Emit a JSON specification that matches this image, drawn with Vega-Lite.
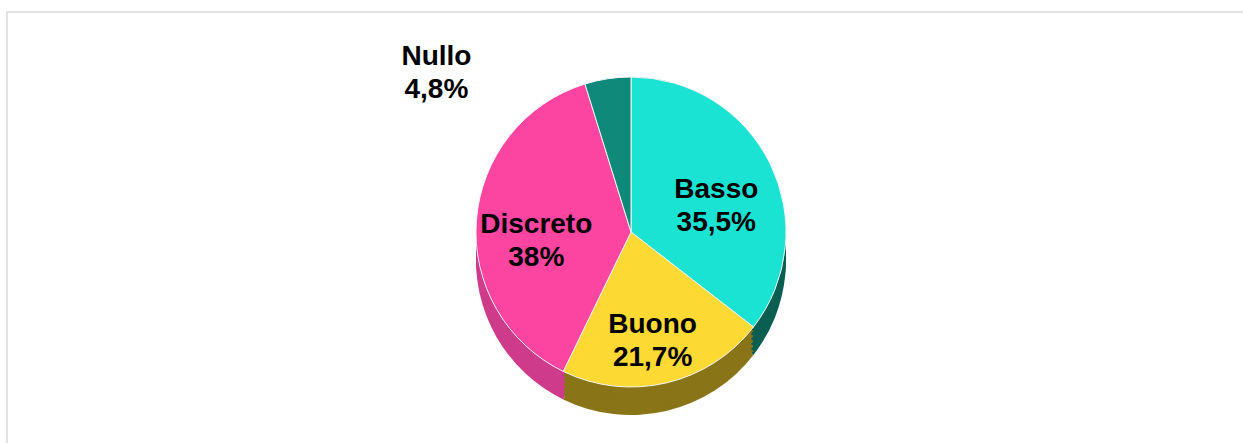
{
  "$schema": "https://vega.github.io/schema/vega-lite/v6.json",
  "width": 1248,
  "height": 440,
  "autosize": {"type": "none"},
  "padding": {"left": 7, "top": 12, "right": 0, "bottom": 0},
  "background": "white",
  "view": {"stroke": "#d9d9d9", "strokeWidth": 1.5},
  "data": {
    "values": [
      {"idx": 1, "cat": "Basso", "value": 35.5, "label": "Basso\n35,5%"},
      {"idx": 2, "cat": "Buono", "value": 21.7, "label": "Buono\n21,7%"},
      {"idx": 3, "cat": "Discreto", "value": 38.0, "label": "Discreto\n38%"},
      {"idx": 4, "cat": "Nullo", "value": 4.8, "label": "Nullo\n4,8%"}
    ]
  },
  "encoding": {
    "theta": {"field": "value", "type": "quantitative", "stack": true},
    "order": {"field": "idx", "type": "quantitative"}
  },
  "layer": [
    {"mark": {"type": "arc", "outerRadius": 155, "yOffset": 28},
     "encoding": {"color": {"field": "cat", "type": "nominal", "legend": null,
       "scale": {"domain": ["Basso", "Buono", "Discreto", "Nullo"], "range": ["#0b5e52", "#8a7418", "#cf3b8b", "#075a4f"]}}}},
    {"mark": {"type": "arc", "outerRadius": 155, "yOffset": 24},
     "encoding": {"color": {"field": "cat", "type": "nominal", "legend": null,
       "scale": {"domain": ["Basso", "Buono", "Discreto", "Nullo"], "range": ["#0b5e52", "#8a7418", "#cf3b8b", "#075a4f"]}}}},
    {"mark": {"type": "arc", "outerRadius": 155, "yOffset": 19},
     "encoding": {"color": {"field": "cat", "type": "nominal", "legend": null,
       "scale": {"domain": ["Basso", "Buono", "Discreto", "Nullo"], "range": ["#0b5e52", "#8a7418", "#cf3b8b", "#075a4f"]}}}},
    {"mark": {"type": "arc", "outerRadius": 155, "yOffset": 14},
     "encoding": {"color": {"field": "cat", "type": "nominal", "legend": null,
       "scale": {"domain": ["Basso", "Buono", "Discreto", "Nullo"], "range": ["#0b5e52", "#8a7418", "#cf3b8b", "#075a4f"]}}}},
    {"mark": {"type": "arc", "outerRadius": 155, "yOffset": 9},
     "encoding": {"color": {"field": "cat", "type": "nominal", "legend": null,
       "scale": {"domain": ["Basso", "Buono", "Discreto", "Nullo"], "range": ["#0b5e52", "#8a7418", "#cf3b8b", "#075a4f"]}}}},
    {"mark": {"type": "arc", "outerRadius": 155, "yOffset": 4},
     "encoding": {"color": {"field": "cat", "type": "nominal", "legend": null,
       "scale": {"domain": ["Basso", "Buono", "Discreto", "Nullo"], "range": ["#0b5e52", "#8a7418", "#cf3b8b", "#075a4f"]}}}},
    {"mark": {"type": "arc", "outerRadius": 155, "stroke": "#f4f4f4", "strokeWidth": 1},
     "encoding": {"fill": {"field": "cat", "type": "nominal", "legend": null,
       "scale": {"domain": ["Basso", "Buono", "Discreto", "Nullo"], "range": ["#1be3d3", "#fcd933", "#fc44a1", "#0f8a7a"]}}}},
    {"mark": {"type": "text", "font": "Liberation Sans", "fontWeight": "bold", "fontSize": 28, "lineHeight": 33, "lineBreak": "\n", "color": "black", "align": "center", "baseline": "middle"},
     "encoding": {
       "radius": {"value": 95},
       "text": {"condition": {"test": "datum.cat === 'Nullo'", "value": ""}, "field": "label", "type": "nominal"}}},
    {"mark": {"type": "text", "font": "Liberation Sans", "fontWeight": "bold", "fontSize": 28, "lineHeight": 33, "lineBreak": "\n", "color": "black", "align": "center", "baseline": "middle", "dx": -168},
     "encoding": {
       "radius": {"value": 177},
       "text": {"condition": {"test": "datum.cat !== 'Nullo'", "value": ""}, "field": "label", "type": "nominal"}}}
  ],
  "resolve": {"scale": {"color": "independent", "fill": "independent"}}
}
